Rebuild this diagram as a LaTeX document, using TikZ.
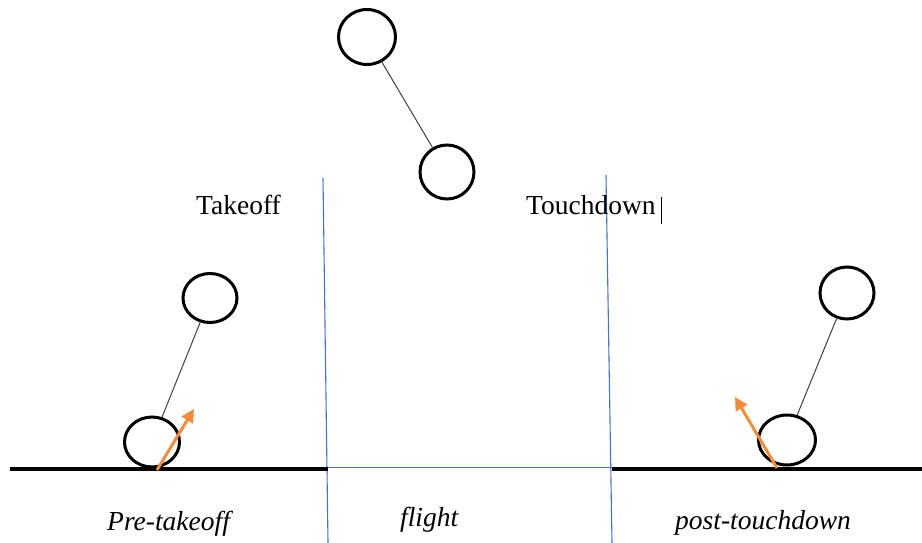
\documentclass[tikz,border=0pt]{standalone}
\usepackage{fontspec}
\setmainfont{Liberation Serif}
\usetikzlibrary{shapes.geometric,arrows.meta}
\definecolor{lineblue}{RGB}{68,114,196}
\definecolor{arroworange}{RGB}{242,140,60}
\begin{document}
\begin{tikzpicture}[x=1pt,y=-1pt,
  ball/.style={ellipse,draw=black,line width=3pt,inner sep=0pt},
  rod/.style={draw=black!75,line width=1pt},
  ground/.style={draw=black,line width=3.5pt},
  divider/.style={draw=lineblue,line width=1.1pt},
  push/.style={draw=arroworange,line width=3pt,-{Triangle[length=13pt,width=13pt]}},
  lbl/.style={anchor=base west,inner sep=0pt,font=\fontsize{27.5}{31}\selectfont},
  phase/.style={lbl,font=\fontsize{27.5}{31}\selectfont\itshape}]
\useasboundingbox (0,0) rectangle (922,543);
% dividers
\coordinate (d1t) at (323,178); \coordinate (d1b) at (328,543);
\coordinate (d2t) at (606,175); \coordinate (d2b) at (612,543);
\coordinate (g1a) at (10,469);  \coordinate (g1b) at (328,469);
\coordinate (g2a) at (612,469); \coordinate (g2b) at (922,469);
\coordinate (h1) at (328,467.5);  \coordinate (h2) at (612,467.5);
\draw[divider] (d1t) -- (d1b);
\draw[divider] (d2t) -- (d2b);
\draw[divider] (h1) -- (h2);
\draw[ground] (g1a) -- (g1b);
\draw[ground] (g2a) -- (g2b);
% pre-takeoff body
\node[ball,minimum width=54pt,minimum height=49pt] (pt) at (210,298) {};
\node[ball,minimum width=55pt,minimum height=50pt] (pb) at (152,442) {};
\draw[rod] (pt) -- (pb);
\coordinate (pa1) at (157,470); \coordinate (pa2) at (194,409);
\draw[push] (pa1) -- (pa2);
% flight body
\node[ball,minimum width=57pt,minimum height=55pt] (ft) at (367,37) {};
\node[ball,minimum width=54pt,minimum height=54pt] (fb) at (447,172) {};
\draw[rod] (ft) -- (fb);
% post-touchdown body
\node[ball,minimum width=54pt,minimum height=52pt] (tt) at (847,293) {};
\node[ball,minimum width=57pt,minimum height=50pt] (tb) at (787,440) {};
\draw[rod] (tt) -- (tb);
\coordinate (ta1) at (777,468); \coordinate (ta2) at (735,397);
\draw[push] (ta1) -- (ta2);
% labels
\node[lbl] (takeoff) at (196,214) {Takeoff};
\node[lbl] (touchdown) at (526,214) {Touchdown};
\coordinate (c1) at (661,197); \coordinate (c2) at (661,224);
\draw[black,line width=1pt] (c1) -- (c2);
\node[phase] (pre) at (107,530) {Pre-takeoff};
\node[phase] (flight) at (400,526) {flight};
\node[phase] (post) at (675,529) {post-touchdown};
\end{tikzpicture}
\end{document}
